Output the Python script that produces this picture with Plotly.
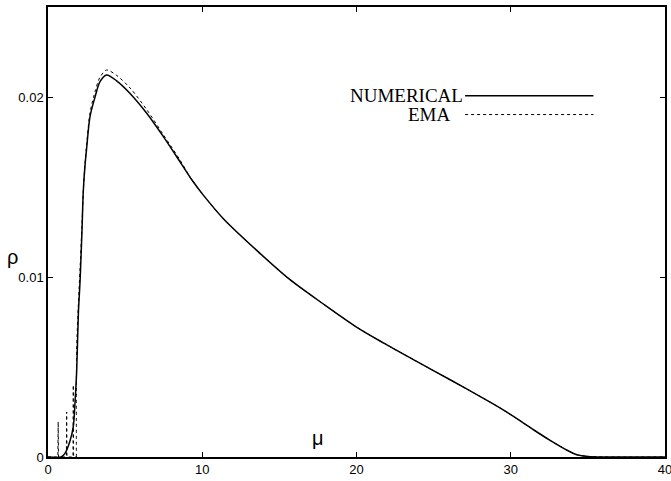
import plotly.graph_objects as go

# ---- data ----
mu_num = [0, 0.85, 1.1, 1.43, 1.64, 1.75, 1.86, 1.97, 2.08, 2.2, 2.29, 2.4, 2.51, 2.72,
          3.05, 3.37, 3.8, 4.45, 5.32, 6.4, 7.48, 8.56, 9.32, 10.07, 11.37, 13.53, 15.69,
          17.85, 20.0, 21.74, 23.9, 26.07, 28.23, 29.3, 30.4, 31.5, 32.5, 33.6, 34.3, 35.0, 40.0]
rho_num = [0, 0, 0.0002, 0.0009, 0.0017, 0.003, 0.0048, 0.008, 0.0098, 0.0125, 0.0148,
           0.0162, 0.0172, 0.0189, 0.0200, 0.02085, 0.02122, 0.0209, 0.0202, 0.0191,
           0.0178, 0.0164, 0.0154, 0.01455, 0.01324, 0.01148, 0.00985, 0.0085, 0.00722,
           0.00634, 0.00531, 0.00429, 0.00326, 0.00273, 0.00213, 0.0015, 0.00095, 0.0004,
           0.00012, 0.00003, 0]

# EMA: narrow spikes at small mu, then the smooth curve
mu_ema_spikes = [0, 0.64, 0.66, 0.68, 1.19, 1.21, 1.23, 1.62, 1.64, 1.66, 1.84]
rho_ema_spikes = [0, 0, 0.00196, 0, 0, 0.0025, 0, 0, 0.004, 0, 0]
mu_ema = [1.84, 1.86, 1.97, 2.08, 2.2, 2.29, 2.4, 2.51, 2.72, 3.05, 3.37, 3.8, 4.45,
          5.32, 6.4, 7.48, 8.56, 9.32, 10.07, 11.37, 13.53, 15.69, 17.85, 20.0, 21.74,
          23.9, 26.07, 28.23, 29.3, 30.4, 31.5, 32.5, 33.6, 34.3, 35.0, 40.0]
rho_ema = [0, 0.006, 0.0085, 0.0105, 0.0128, 0.0148, 0.0163, 0.0174, 0.0191, 0.0203,
           0.0211, 0.0215, 0.0212, 0.0205, 0.0193, 0.0179, 0.0165, 0.0154, 0.01455,
           0.01324, 0.01148, 0.00985, 0.0085, 0.00722, 0.00634, 0.00531, 0.00429,
           0.00326, 0.00273, 0.00213, 0.0015, 0.00095, 0.0004, 0.00012, 0.00003, 0]

x_ticks = [0, 10, 20, 30, 40]
y_ticks = [0, 0.01, 0.02]
y_tick_labels = ["0", "0.01", "0.02"]
legend_labels = ["NUMERICAL", "EMA"]

fig = go.Figure()
fig.add_trace(go.Scatter(x=mu_num, y=rho_num, mode="lines", name=legend_labels[0],
                         line=dict(color="black", width=1.5, shape="spline", smoothing=0.8)))
fig.add_trace(go.Scatter(x=mu_ema_spikes, y=rho_ema_spikes, mode="lines", name=legend_labels[1],
                         line=dict(color="black", width=1, dash="dot")))
fig.add_trace(go.Scatter(x=mu_ema, y=rho_ema, mode="lines", name=legend_labels[1],
                         line=dict(color="black", width=1, dash="dot", shape="spline",
                                   smoothing=0.8)))

axis_common = dict(showgrid=False, zeroline=False, showline=True, linecolor="black",
                   linewidth=1.5, mirror="ticks", ticks="inside", ticklen=5,
                   tickcolor="black", tickwidth=1, automargin=False,
                   ticklabeloverflow="allow",
                   tickfont=dict(family="Liberation Sans", size=13, color="black"))

fig.update_xaxes(range=[0, 40], tickvals=x_ticks, ticktext=[str(v) for v in x_ticks],
                 **axis_common)
fig.update_yaxes(range=[0, 0.025], tickvals=y_ticks, ticktext=y_tick_labels,
                 **axis_common)

# legend keys (text to the left of a line sample, gnuplot style)
leg_text_x = [0.676, 0.656]
leg_y = [0.803, 0.761]
leg_dash = ["solid", "dot"]
leg_w = [1.5, 1]
for lab, tx, yy, d, w in zip(legend_labels, leg_text_x, leg_y, leg_dash, leg_w):
    fig.add_annotation(xref="paper", yref="paper", x=tx, y=yy, xanchor="right",
                       yanchor="middle", text=lab, showarrow=False,
                       font=dict(family="Liberation Serif", size=19, color="black"))
    fig.add_shape(type="line", xref="paper", yref="paper", x0=0.676, x1=0.884,
                  y0=yy, y1=yy, line=dict(color="black", width=w, dash=d))

fig.add_annotation(xref="paper", yref="paper", x=-0.0583, y=0.444, text="ρ",
                   xanchor="center", yanchor="middle", showarrow=False,
                   font=dict(family="Liberation Sans", size=20, color="black"))
fig.add_annotation(xref="paper", yref="paper", x=0.4376, y=0.042, text="μ",
                   xanchor="center", yanchor="middle", showarrow=False,
                   font=dict(family="Liberation Sans", size=20, color="black"))

fig.update_layout(width=671, height=481, margin=dict(l=48, r=6, t=7, b=24),
                  plot_bgcolor="white", paper_bgcolor="white", showlegend=False)

fig.write_html("out.html", config={"displayModeBar": False},
               post_script="document.body.style.margin='0';"
                           "document.body.style.overflow='hidden';")
